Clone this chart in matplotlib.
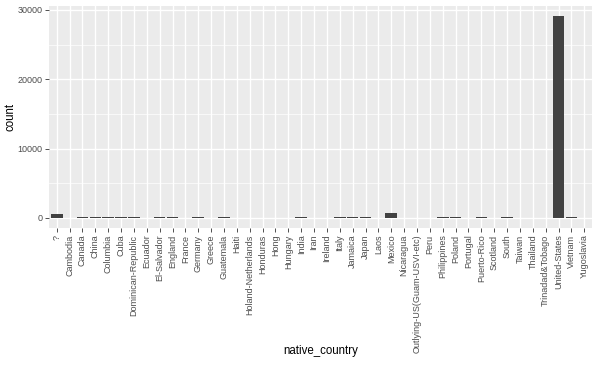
import matplotlib
matplotlib.use("Agg")
import matplotlib.pyplot as plt
from matplotlib.ticker import MultipleLocator

countries = ["?", "Cambodia", "Canada", "China", "Columbia", "Cuba", "Dominican-Republic",
             "Ecuador", "El-Salvador", "England", "France", "Germany", "Greece", "Guatemala",
             "Haiti", "Holand-Netherlands", "Honduras", "Hong", "Hungary", "India", "Iran",
             "Ireland", "Italy", "Jamaica", "Japan", "Laos", "Mexico", "Nicaragua",
             "Outlying-US(Guam-USVI-etc)", "Peru", "Philippines", "Poland", "Portugal",
             "Puerto-Rico", "Scotland", "South", "Taiwan", "Thailand", "Trinadad&Tobago",
             "United-States", "Vietnam", "Yugoslavia"]
counts = [583, 19, 121, 75, 59, 95, 70,
          28, 106, 90, 29, 137, 29, 64,
          44, 1, 13, 20, 13, 100, 43,
          24, 73, 81, 62, 18, 643, 34,
          14, 31, 198, 60, 37,
          114, 12, 80, 51, 18, 19,
          29170, 67, 16]
yticks = [0, 10000, 20000, 30000]

plt.rcParams['font.family'] = ['Liberation Sans', 'DejaVu Sans']
fig = plt.figure(figsize=(6, 3.71), dpi=100)
ax_l, ax_r, ax_t, ax_b = 49, 592, 5.6, 228
ax = fig.add_axes([ax_l/600, 1 - ax_b/371, (ax_r-ax_l)/600, (ax_b-ax_t)/371])
ax.set_facecolor("#EBEBEB")
x = list(range(len(countries)))
ax.bar(x, counts, width=0.9, color="#424242", zorder=3)
n = len(countries)
ax.set_xlim(-0.6, n - 1 + 0.6)
ymax = max(counts)
ax.set_ylim(-0.05 * ymax, 1.05 * ymax)
ax.set_yticks(yticks)
ax.set_yticklabels([str(v) for v in yticks])
ax.yaxis.set_minor_locator(MultipleLocator(5000))
ax.set_xticks(x)
ax.set_xticklabels(countries, rotation=90)
ax.grid(which="major", color="white", linewidth=1.0, zorder=0)
ax.grid(which="minor", axis="y", color="white", linewidth=0.5, zorder=0)
ax.set_axisbelow(True)
for s in ax.spines.values():
    s.set_visible(False)
ax.tick_params(which="major", length=2.7, width=0.6, color="#333333",
               labelsize=6.5, labelcolor="#4D4D4D", pad=2)
ax.tick_params(which="minor", length=0)
ax.set_xlabel("native_country", fontsize=8.3)
ax.set_ylabel("count", fontsize=8.3)
ax.xaxis.set_label_coords(0.5, (ax_b - 351) / (ax_b - ax_t))
ax.yaxis.set_label_coords((11 - ax_l) / (ax_r - ax_l), 0.5)
ax.xaxis.label.set_va("center")
ax.yaxis.label.set_va("center")
fig.savefig("out.png", dpi=100)
